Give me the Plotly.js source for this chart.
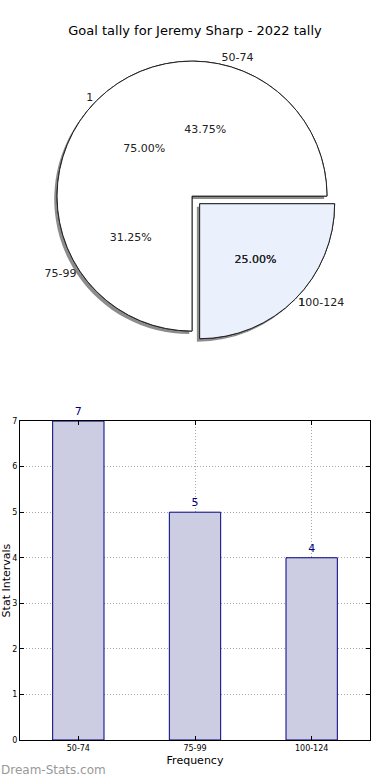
<!DOCTYPE html>
<html>
<head>
<meta charset="utf-8">
<script src="https://cdn.plot.ly/plotly-3.0.1.min.js"></script>
<style>html,body{margin:0;padding:0;background:#fff;}#chart{width:390px;height:780px;}</style>
</head>
<body>
<div id="chart"></div>
<script>
// ---- data ----
var titleText = "Goal tally for Jeremy Sharp - 2022 tally";
var intervals = ["50-74", "75-99", "100-124"];
var counts = [7, 5, 4];
var innerLabels = ["1", "1 "];
var innerValues = [75, 25];
var watermark = "Dream-Stats.com";

function sum(a) { return a.reduce(function (s, v) { return s + v; }, 0); }
// matplotlib style: first slice starts at 3 o'clock, counterclockwise
function rotFor(vals) { return 90 - 360 * vals[0] / sum(vals); }

var FONT = "DejaVu Sans, sans-serif";
var pieDomain = {x: [0.074, 0.909], y: [0.538, 0.932]};
var shadowDomain = {x: [0.066, 0.901], y: [0.534, 0.928]};
var pullInner = [0, 0.08];
var pullOuter = [0, 0, 0.08];
var common = {sort: false, direction: "counterclockwise", hoverinfo: "none", showlegend: false};
var txt = {family: FONT, size: 11, color: "#222"};
function clear(n) { var a = []; for (var i = 0; i < n; i++) a.push("rgba(0,0,0,0)"); return a; }

function pie(labels, values, domain, pull, extra) {
  return Object.assign({}, common, {type: "pie", labels: labels, values: values, domain: domain,
    rotation: rotFor(values), pull: pull}, extra);
}

var traces = [
  // shadow
  pie(intervals, counts, shadowDomain, pullOuter, {textinfo: "none",
    marker: {colors: ["#8c8c8c", "#8c8c8c", "#8c8c8c"], line: {width: 0}}}),
  // outer pie wedges (intervals)
  pie(intervals, counts, pieDomain, pullOuter, {textinfo: "none",
    marker: {colors: ["#ffffff", "#ffffff", "#eaf0fc"], line: {color: "#222", width: 1}}}),
  // inner pie wedges (1)
  pie(innerLabels, innerValues, pieDomain, pullInner, {textinfo: "none",
    marker: {colors: ["#ffffff", "#eaf0fc"], line: {color: "#222", width: 1}}}),
  // texts (transparent wedges)
  pie(intervals, counts, pieDomain, pullOuter, {textinfo: "percent", texttemplate: "%{percent:.2%}",
    textposition: "inside", insidetextorientation: "horizontal", textfont: txt,
    marker: {colors: clear(3), line: {width: 0}}}),
  pie(innerLabels, innerValues, pieDomain, pullInner, {textinfo: "percent", texttemplate: "%{percent:.2%}",
    textposition: "inside", insidetextorientation: "horizontal", textfont: txt,
    marker: {colors: clear(2), line: {width: 0}}}),
  pie(intervals, counts, pieDomain, pullOuter, {textinfo: "label", textposition: "outside", textfont: txt,
    marker: {colors: clear(3), line: {width: 0}}}),
  pie(innerLabels, innerValues, pieDomain, pullInner, {textinfo: "label", textposition: "outside", textfont: txt,
    marker: {colors: clear(2), line: {width: 0}}}),
  // bar
  {type: "bar", x: intervals, y: counts, width: 0.44, text: counts.map(String), textposition: "outside",
   cliponaxis: false, textfont: {family: FONT, size: 11, color: "#000080"},
   marker: {color: "#ccccE2", line: {color: "#000080", width: 1}}, hoverinfo: "none", showlegend: false}
];

var layout = {
  width: 390, height: 780,
  margin: {l: 20, r: 20, t: 0, b: 40},
  paper_bgcolor: "#fff", plot_bgcolor: "#fff",
  font: {family: FONT, color: "#000"},
  title: {text: titleText, x: 0.5, xanchor: "center", y: 1 - 30 / 780, yanchor: "middle", yref: "container",
    font: {family: FONT, size: 13, color: "#000"}},
  xaxis: {domain: [0, 1], anchor: "y", type: "category", range: [-0.5, 2.5],
    showline: true, linecolor: "#000", linewidth: 1, mirror: "ticks",
    ticks: "inside", ticklen: 4, tickcolor: "#000",
    showgrid: true, gridcolor: "#a8a8a8", griddash: "1px,2px", gridwidth: 1,
    tickfont: {family: FONT, size: 8, color: "#000"},
    title: {text: "Frequency", font: {family: FONT, size: 11, color: "#000"}, standoff: 4},
    automargin: false, fixedrange: true},
  yaxis: {domain: [0, 0.431], anchor: "x", range: [0, 7], dtick: 1,
    showline: true, linecolor: "#000", linewidth: 1, mirror: "ticks",
    ticks: "inside", ticklen: 4, tickcolor: "#000",
    showgrid: true, gridcolor: "#a8a8a8", griddash: "1px,2px", gridwidth: 1, zeroline: false,
    tickfont: {family: FONT, size: 8, color: "#000"},
    title: {text: "Stat Intervals", font: {family: FONT, size: 11, color: "#000"}, standoff: 2},
    automargin: false, fixedrange: true},
  annotations: [{text: watermark, xref: "paper", yref: "paper", x: -0.06, y: -30 / 740,
    xanchor: "left", yanchor: "middle",
    showarrow: false, font: {family: FONT, size: 12, color: "#999"}}]
};

Plotly.newPlot("chart", traces, layout, {staticPlot: true, displayModeBar: false});
</script>
</body>
</html>
